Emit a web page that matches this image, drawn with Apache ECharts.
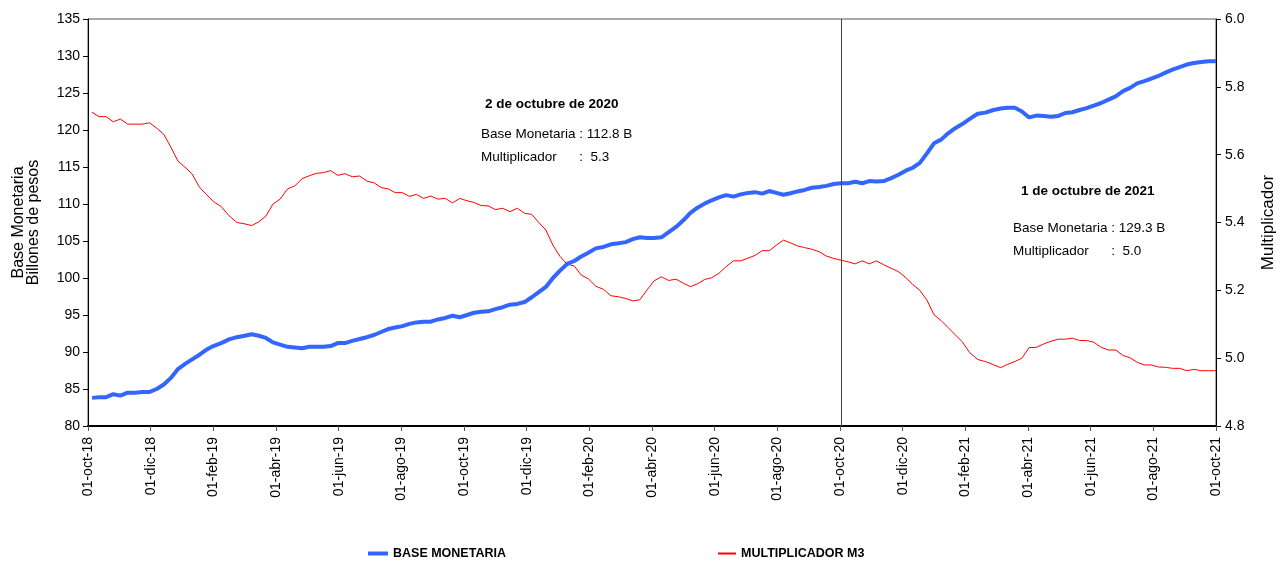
<!DOCTYPE html>
<html>
<head>
<meta charset="utf-8">
<script src="https://cdn.jsdelivr.net/npm/echarts@6/dist/echarts.min.js"></script>
<style>
	html, body { margin: 0; padding: 0; background: #fff; }
	#grafico { width: 1283px; height: 562px; }
</style>
</head>
<body>
<div id="grafico"></div>
<script>
// datos semanales (viernes), del 05-oct-18 al 01-oct-21
var fechaInicio = [2018, 9, 5];
var baseMonetaria = [
	83.8, 83.9, 83.9, 84.3, 84.1, 84.5, 84.5, 84.6, 84.6, 85.0,
	85.6, 86.5, 87.7, 88.4, 89.0, 89.6, 90.3, 90.8, 91.2, 91.7,
	92.0, 92.2, 92.4, 92.2, 91.9, 91.3, 91.0, 90.7, 90.6, 90.5,
	90.7, 90.7, 90.7, 90.8, 91.2, 91.2, 91.5, 91.75, 92.0, 92.3,
	92.7, 93.1, 93.3, 93.5, 93.8, 94.0, 94.1, 94.1, 94.4, 94.6,
	94.9, 94.7, 95.0, 95.3, 95.45, 95.5, 95.8, 96.05, 96.4, 96.5,
	96.75, 97.4, 98.1, 98.8, 100.0, 101.0, 101.9, 102.3, 102.9, 103.4,
	104.0, 104.2, 104.55, 104.7, 104.85, 105.25, 105.5, 105.4, 105.4, 105.5,
	106.2, 106.9, 107.8, 108.8, 109.5, 110.05, 110.5, 110.9, 111.2, 111.0,
	111.3, 111.5, 111.6, 111.4, 111.75, 111.5, 111.25, 111.45, 111.7, 111.9,
	112.2, 112.3, 112.45, 112.7, 112.8, 112.8, 113.0, 112.8, 113.1, 113.05,
	113.1, 113.5, 113.95, 114.5, 114.9, 115.55, 116.85, 118.2, 118.7, 119.55,
	120.25, 120.8, 121.5, 122.2, 122.35, 122.7, 122.9, 123.0, 123.0, 122.5,
	121.7, 121.95, 121.9, 121.8, 121.9, 122.3, 122.4, 122.7, 122.95, 123.3,
	123.65, 124.1, 124.55, 125.25, 125.7, 126.3, 126.6, 126.95, 127.3, 127.75,
	128.15, 128.5, 128.85, 129.05, 129.2, 129.3, 129.3
];
var multiplicadorM3 = [
	5.725, 5.712, 5.712, 5.697, 5.705, 5.690, 5.690, 5.690, 5.694, 5.678,
	5.660, 5.622, 5.581, 5.563, 5.543, 5.505, 5.483, 5.462, 5.447, 5.420,
	5.400, 5.396, 5.391, 5.402, 5.419, 5.454, 5.469, 5.499, 5.508, 5.529,
	5.538, 5.545, 5.547, 5.553, 5.539, 5.544, 5.535, 5.537, 5.522, 5.517,
	5.503, 5.499, 5.488, 5.488, 5.477, 5.483, 5.471, 5.478, 5.469, 5.471,
	5.458, 5.471, 5.464, 5.459, 5.450, 5.449, 5.438, 5.442, 5.432, 5.442,
	5.427, 5.424, 5.400, 5.378, 5.333, 5.300, 5.277, 5.272, 5.245, 5.234,
	5.212, 5.203, 5.184, 5.181, 5.176, 5.169, 5.172, 5.201, 5.228, 5.240,
	5.229, 5.233, 5.221, 5.211, 5.219, 5.232, 5.237, 5.250, 5.270, 5.287,
	5.287, 5.295, 5.303, 5.317, 5.317, 5.333, 5.348, 5.340, 5.331, 5.326,
	5.321, 5.314, 5.301, 5.294, 5.289, 5.284, 5.278, 5.287, 5.278, 5.287,
	5.275, 5.265, 5.255, 5.238, 5.217, 5.200, 5.171, 5.128, 5.111, 5.090,
	5.069, 5.048, 5.016, 4.996, 4.990, 4.981, 4.972, 4.982, 4.990, 5.000,
	5.031, 5.032, 5.042, 5.050, 5.056, 5.056, 5.059, 5.052, 5.052, 5.047,
	5.032, 5.024, 5.024, 5.008, 5.001, 4.988, 4.980, 4.980, 4.974, 4.973,
	4.970, 4.970, 4.963, 4.967, 4.963, 4.963, 4.963
];
// etiquetas del eje x: primero de cada dos meses, desde oct-18
var etiquetasEje = [
	'01-oct-18', '01-dic-18', '01-feb-19', '01-abr-19', '01-jun-19', '01-ago-19', '01-oct-19',
	'01-dic-19', '01-feb-20', '01-abr-20', '01-jun-20', '01-ago-20', '01-oct-20', '01-dic-20',
	'01-feb-21', '01-abr-21', '01-jun-21', '01-ago-21', '01-oct-21'
];
var fechaCorte = [2020, 9, 2];

var FUENTE = "Arial, 'Liberation Sans', sans-serif";

// meses (con fraccion) transcurridos desde el 01-oct-18
function mesDesde(d) {
	var y = d.getFullYear(), m = d.getMonth();
	var diasMes = new Date(y, m + 1, 0).getDate();
	return (y - 2018) * 12 + (m - 9) + (d.getDate() - 1) / diasMes;
}

var s1 = [], s2 = [];
for (var i = 0; i < baseMonetaria.length; i++) {
	var x = mesDesde(new Date(fechaInicio[0], fechaInicio[1], fechaInicio[2] + 7 * i));
	s1.push([x, baseMonetaria[i]]);
	s2.push([x, multiplicadorM3[i]]);
}

function nota(left, top, texto, negrita) {
	return { type : 'text', left : left, top : top, style : {
		text : texto, fontFamily : FUENTE, fontWeight : negrita ? 'bold' : 'normal', fontSize : 13.5, fill : '#000' } };
}

var chart = echarts.init(document.getElementById('grafico'));
var option = {
	animation : false,
	backgroundColor : '#fff',
	grid : {
		left : 88,
		right : 67,
		top : 19,
		bottom : 136,
		show : true,
		borderColor : '#555',
		borderWidth : 1,
		containLabel : false,
		outerBoundsMode : 'none'
	},
	legend : [ {
		left : 363,
		top : 542,
		itemWidth : 20,
		itemHeight : 4,
		itemGap : 0,
		icon : 'rect',
		textStyle : { fontFamily : FUENTE, fontWeight : 'bold', fontSize : 12.5, color : '#000' },
		data : [ 'BASE MONETARIA' ]
	}, {
		left : 713,
		top : 542,
		itemWidth : 18,
		itemHeight : 2,
		itemGap : 0,
		icon : 'rect',
		textStyle : { fontFamily : FUENTE, fontWeight : 'bold', fontSize : 12.5, color : '#000' },
		data : [ 'MULTIPLICADOR M3' ]
	} ],
	xAxis : {
		type : 'value',
		min : 0,
		max : 36,
		interval : 2,
		axisLine : { lineStyle : { color : '#000', width : 2 } },
		axisTick : { show : true, length : 5, lineStyle : { color : '#555' } },
		splitLine : { show : false },
		axisLabel : {
			rotate : 90,
			margin : 11,
			showMinLabel : true,
			showMaxLabel : true,
			fontFamily : FUENTE,
			fontSize : 14,
			color : '#000',
			formatter : function(val) {
				return etiquetasEje[Math.round(val / 2)] || '';
			}
		}
	},
	yAxis : [ {
		type : 'value',
		min : 80,
		max : 135,
		interval : 5,
		name : 'Base Monetaria\nBillones de pesos',
		nameLocation : 'middle',
		nameRotate : 90,
		nameGap : 47,
		nameTextStyle : { fontFamily : FUENTE, fontSize : 16, color : '#000', lineHeight : 15 },
		axisLine : { show : true, lineStyle : { color : '#000' } },
		axisTick : { show : true, length : 5, lineStyle : { color : '#000' } },
		splitLine : { show : false },
		axisLabel : { fontFamily : FUENTE, fontSize : 14, color : '#000', margin : 8 }
	}, {
		type : 'value',
		position : 'right',
		min : 4.8,
		max : 6.0,
		interval : 0.2,
		name : 'Multiplicador',
		nameLocation : 'middle',
		nameRotate : 90,
		nameGap : 44,
		nameTextStyle : { fontFamily : FUENTE, fontSize : 17, color : '#000' },
		axisLine : { show : true, lineStyle : { color : '#000' } },
		axisTick : { show : true, length : 5, lineStyle : { color : '#000' } },
		splitLine : { show : false },
		axisLabel : {
			fontFamily : FUENTE, fontSize : 14, color : '#000', margin : 9,
			formatter : function(v) { return v.toFixed(1); }
		}
	} ],
	graphic : [
		nota(485, 97, '2 de octubre de 2020', true),
		nota(481, 127, 'Base Monetaria : 112.8 B'),
		nota(481, 150, 'Multiplicador      :  5.3'),
		nota(1021, 184, '1 de octubre de 2021', true),
		nota(1013, 221, 'Base Monetaria : 129.3 B'),
		nota(1013, 244, 'Multiplicador      :  5.0')
	],
	series : [ {
		name : 'BASE MONETARIA',
		type : 'line',
		yAxisIndex : 0,
		data : s1,
		symbol : 'none',
		color : '#3366ff',
		lineStyle : { color : '#3366ff', width : 4 },
		z : 3,
		markLine : {
			silent : true,
			symbol : 'none',
			label : { show : false },
			lineStyle : { color : '#444', width : 1, type : 'solid' },
			data : [ { xAxis : mesDesde(new Date(fechaCorte[0], fechaCorte[1], fechaCorte[2])) } ]
		}
	}, {
		name : 'MULTIPLICADOR M3',
		type : 'line',
		yAxisIndex : 1,
		data : s2,
		symbol : 'none',
		color : '#ff0000',
		lineStyle : { color : '#ff0000', width : 1 },
		z : 2
	} ]
};
chart.setOption(option);
</script>
</body>
</html>
